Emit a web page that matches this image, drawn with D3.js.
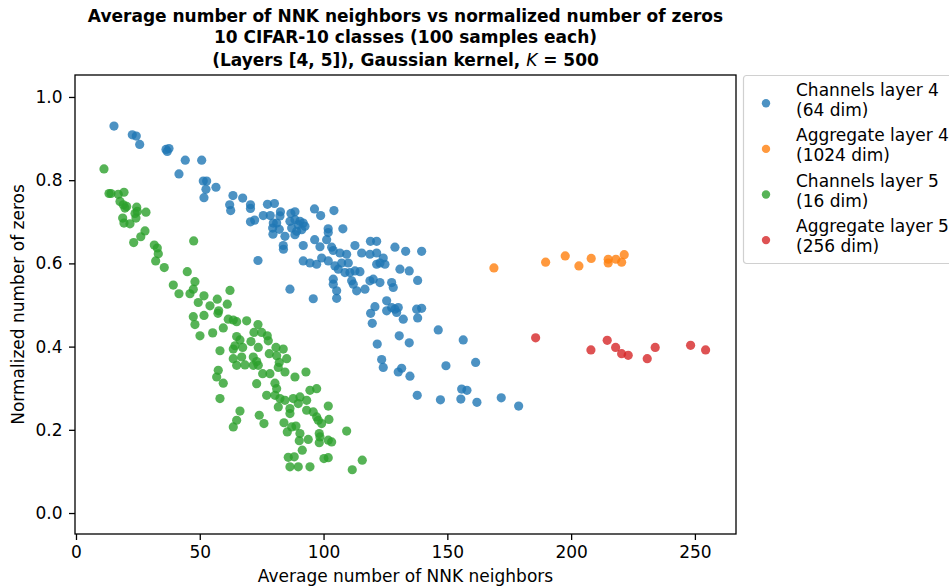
<!DOCTYPE html>
<html>
<head>
<meta charset="utf-8">
<script src="https://cdn.jsdelivr.net/npm/d3@7"></script>
<style>
  body { margin: 0; background: #fff; }
  text { font-family: "DejaVu Sans", sans-serif; }
</style>
</head>
<body>
<svg id="chart"></svg>
<script>
// points: [avg NNK neighbors, normalized number of zeros]
const channelsLayer4 = [
  [15.35,0.930],[22.74,0.909],[24.35,0.906],[25.73,0.886],[36.35,0.874],[37.56,0.876],[36.87,0.869],
  [44.14,0.848],[50.77,0.848],[41.60,0.815],[51.41,0.798],[52.79,0.798],[52.50,0.778],[51.70,0.758],
  [56.54,0.783],[63.41,0.763],[67.33,0.757],[62.08,0.741],[62.48,0.727],[70.48,0.741],[70.48,0.732],
  [77.34,0.742],[80.17,0.744],[75.65,0.715],[78.47,0.715],[70.48,0.700],[72.17,0.704],[82.59,0.724],
  [82.39,0.714],[86.83,0.720],[88.45,0.724],[86.43,0.701],[88.45,0.705],[90.47,0.701],[91.80,0.697],
  [92.49,0.689],[87.12,0.685],[89.14,0.677],[91.16,0.681],[88.45,0.669],[84.41,0.665],[89.78,0.693],
  [79.69,0.697],[81.06,0.697],[79.44,0.685],[82.11,0.682],[79.56,0.670],[96.33,0.731],[104.20,0.727],
  [98.83,0.715],[101.86,0.683],[101.90,0.674],[107.80,0.683],[96.41,0.657],[101.25,0.657],[91.80,0.643],
  [98.55,0.640],[103.27,0.639],[112.68,0.643],[118.94,0.653],[121.45,0.653],[83.72,0.643],[83.80,0.634],
  [103.92,0.631],[106.62,0.625],[109.33,0.622],[115.39,0.625],[118.74,0.622],[121.45,0.625],[124.11,0.613],
  [124.80,0.598],[122.78,0.601],[121.45,0.598],[128.84,0.639],[133.16,0.629],[139.62,0.629],[91.80,0.606],
  [94.51,0.601],[97.21,0.598],[99.23,0.613],[101.90,0.606],[104.60,0.594],[107.31,0.601],[109.98,0.601],
  [108.64,0.578],[105.94,0.586],[110.66,0.578],[112.68,0.582],[114.70,0.580],[111.35,0.558],[103.92,0.562],
  [103.92,0.550],[112.00,0.550],[113.37,0.534],[116.72,0.538],[118.74,0.558],[122.78,0.554],[120.08,0.562],
  [127.51,0.554],[128.15,0.542],[130.86,0.586],[134.61,0.582],[138.01,0.559],[86.43,0.538],[95.84,0.515],
  [105.29,0.534],[105.29,0.516],[125.49,0.510],[120.76,0.496],[119.02,0.480],[119.67,0.456],[125.49,0.486],
  [127.51,0.494],[128.84,0.490],[129.52,0.482],[130.17,0.494],[132.19,0.466],[137.60,0.490],[139.62,0.492],
  [138.01,0.469],[146.33,0.440],[130.57,0.426],[134.61,0.409],[121.69,0.406],[156.42,0.416],[123.47,0.369],
  [124.11,0.350],[130.17,0.339],[131.54,0.348],[134.90,0.329],[149.44,0.354],[161.43,0.362],[137.84,0.283],
  [147.21,0.272],[155.78,0.298],[157.92,0.295],[155.45,0.274],[161.95,0.266],[171.77,0.277],[178.80,0.257],
  [73.51,0.607]
];
const aggregateLayer4 = [
  [168.82,0.589],[189.70,0.603],[197.62,0.618],[203.15,0.594],[208.12,0.612],
  [214.98,0.610],[214.98,0.601],[218.09,0.610],[220.40,0.603],[221.45,0.621]
];
const channelsLayer5 = [
  [11.31,0.827],[13.33,0.768],[14.14,0.768],[17.08,0.766],[19.39,0.771],[17.77,0.749],[19.10,0.741],
  [20.48,0.737],[19.79,0.733],[24.52,0.735],[24.76,0.725],[28.27,0.723],[23.83,0.720],[18.86,0.709],
  [19.39,0.697],[21.81,0.695],[24.23,0.709],[27.87,0.678],[26.17,0.664],[23.30,0.650],[47.54,0.654],
  [31.62,0.644],[32.84,0.637],[33.24,0.623],[32.19,0.606],[35.66,0.590],[44.95,0.580],[48.06,0.556],
  [47.38,0.538],[46.04,0.527],[39.30,0.548],[41.60,0.527],[51.70,0.522],[49.39,0.506],[54.12,0.498],
  [57.07,0.514],[61.11,0.502],[62.20,0.535],[47.38,0.472],[48.06,0.453],[51.70,0.475],[57.35,0.480],
  [57.63,0.486],[50.08,0.426],[55.21,0.433],[59.49,0.445],[61.51,0.466],[63.53,0.464],[64.90,0.460],
  [68.94,0.462],[73.51,0.453],[71.89,0.434],[75.00,0.434],[77.26,0.426],[77.67,0.414],[64.90,0.424],
  [66.24,0.416],[64.22,0.402],[67.33,0.398],[70.68,0.412],[73.63,0.398],[63.53,0.394],[58.16,0.390],
  [63.53,0.371],[66.92,0.375],[64.90,0.355],[68.26,0.356],[71.61,0.375],[72.98,0.364],[71.61,0.355],
  [73.63,0.355],[75.40,0.335],[78.35,0.335],[80.78,0.398],[83.72,0.394],[78.07,0.383],[81.06,0.378],
  [85.10,0.371],[82.11,0.362],[81.71,0.350],[84.41,0.339],[88.45,0.327],[92.89,0.339],[57.47,0.343],
  [56.83,0.327],[59.49,0.312],[58.16,0.275],[72.98,0.311],[77.02,0.283],[80.37,0.312],[81.06,0.299],
  [80.37,0.283],[82.39,0.275],[84.41,0.271],[87.76,0.275],[90.47,0.279],[93.17,0.271],[89.78,0.263],
  [93.17,0.247],[86.43,0.251],[86.43,0.239],[66.24,0.245],[64.90,0.223],[63.53,0.207],[74.03,0.235],
  [75.93,0.215],[84.00,0.217],[87.12,0.207],[81.71,0.255],[94.51,0.295],[97.21,0.299],[95.84,0.243],
  [97.21,0.231],[97.86,0.223],[101.90,0.257],[102.18,0.225],[99.23,0.215],[85.34,0.195],[88.85,0.209],
  [90.47,0.191],[90.19,0.174],[93.82,0.177],[98.26,0.191],[98.55,0.183],[98.26,0.169],[101.90,0.175],
  [103.27,0.171],[91.40,0.151],[85.74,0.134],[88.17,0.135],[86.43,0.111],[89.78,0.111],[94.51,0.111],
  [100.16,0.131],[101.90,0.133],[109.33,0.197],[111.59,0.104],[115.63,0.127]
];
const aggregateLayer5 = [
  [185.66,0.421],[208.00,0.392],[214.58,0.415],[217.97,0.398],[220.40,0.383],
  [223.06,0.379],[230.74,0.371],[233.97,0.398],[248.26,0.403],[254.32,0.392]
];

const seriesNames = [["Channels layer 4", "(64 dim)"], ["Aggregate layer 4", "(1024 dim)"],
                     ["Channels layer 5", "(16 dim)"], ["Aggregate layer 5", "(256 dim)"]];
const seriesColors = ["#1f77b4", "#ff7f0e", "#2ca02c", "#d62728"];
const allSeries = [channelsLayer4, aggregateLayer4, channelsLayer5, aggregateLayer5];

const xTicks = [0, 50, 100, 150, 200, 250];
const yTicks = [0.0, 0.2, 0.4, 0.6, 0.8, 1.0];
const titleLines = ["Average number of NNK neighbors vs normalized number of zeros",
                    "10 CIFAR-10 classes (100 samples each)"];

const W = 949, H = 588;
const margin = {top: 75, right: 213, bottom: 54, left: 75};
const width = W - margin.left - margin.right;
const height = H - margin.top - margin.bottom;
const fs = 17;

const svg = d3.select("#chart").attr("width", W).attr("height", H);
const g = svg.append("g").attr("transform", "translate(" + margin.left + "," + margin.top + ")");

const x = d3.scaleLinear().domain([-0.4, 266.6]).range([0, width]);
const y = d3.scaleLinear().domain([-0.0504, 1.0528]).range([height, 0]);

// axes
const xAxis = g.append("g")
  .attr("transform", "translate(0," + height + ")")
  .call(d3.axisBottom(x).tickValues(xTicks).tickSize(6).tickPadding(5.5).tickFormat(d3.format("d")));
const yAxis = g.append("g")
  .call(d3.axisLeft(y).tickValues(yTicks).tickSize(6).tickPadding(6.5).tickFormat(d3.format(".1f")));
[xAxis, yAxis].forEach(a => {
  a.select(".domain").remove();
  a.selectAll(".tick line").attr("stroke", "#000").attr("stroke-width", 1.3);
  a.selectAll(".tick text").attr("fill", "#000").style("font-size", fs + "px")
    .style("font-family", "'DejaVu Sans', sans-serif");
});

// points
allSeries.forEach((pts, i) => {
  g.append("g").selectAll("circle")
    .data(pts)
    .join("circle")
    .attr("cx", d => x(d[0]))
    .attr("cy", d => y(d[1]))
    .attr("r", 4.6)
    .attr("fill", seriesColors[i])
    .attr("fill-opacity", 0.8);
});

// frame
g.append("rect")
  .attr("width", width).attr("height", height)
  .attr("fill", "none").attr("stroke", "#000").attr("stroke-width", 1.3);

// labels
svg.append("text")
  .attr("x", margin.left + width / 2).attr("y", 582)
  .attr("text-anchor", "middle").style("font-size", fs + "px")
  .text("Average number of NNK neighbors");
svg.append("text")
  .attr("transform", "translate(24," + (margin.top + height / 2) + ") rotate(-90)")
  .attr("text-anchor", "middle").style("font-size", fs + "px")
  .text("Normalized number of zeros");

// title
const cx = margin.left + width / 2;
titleLines.forEach((t, i) => {
  svg.append("text")
    .attr("x", cx).attr("y", 22 + i * 20.5)
    .attr("text-anchor", "middle").style("font-size", "17px").style("font-weight", "bold")
    .text(t);
});
const t3 = svg.append("text")
  .attr("x", cx).attr("y", 65.5)
  .attr("text-anchor", "middle").style("font-size", "17px").style("font-weight", "bold");
t3.append("tspan").text("(Layers [4, 5]), Gaussian kernel, ");
t3.append("tspan").style("font-style", "italic").style("font-weight", "normal").text("K");
t3.append("tspan").text(" = 500");

// legend
const leg = svg.append("g").attr("transform", "translate(743,75)");
leg.append("rect")
  .attr("x", 0.5).attr("y", 0.5).attr("width", 230).attr("height", 188).attr("rx", 3)
  .attr("fill", "#fff").attr("fill-opacity", 0.8).attr("stroke", "#d0d0d0").attr("stroke-width", 1.2);
seriesNames.forEach((nm, i) => {
  const row = leg.append("g").attr("transform", "translate(0," + (i * 45.6) + ")");
  row.append("circle").attr("cx", 23).attr("cy", 28.3).attr("r", 4.2)
    .attr("fill", seriesColors[i]).attr("fill-opacity", 0.8);
  nm.forEach((line, j) => {
    row.append("text").attr("x", 53).attr("y", 20.7 + j * 20)
      .style("font-size", fs + "px").text(line);
  });
});
</script>
</body>
</html>
